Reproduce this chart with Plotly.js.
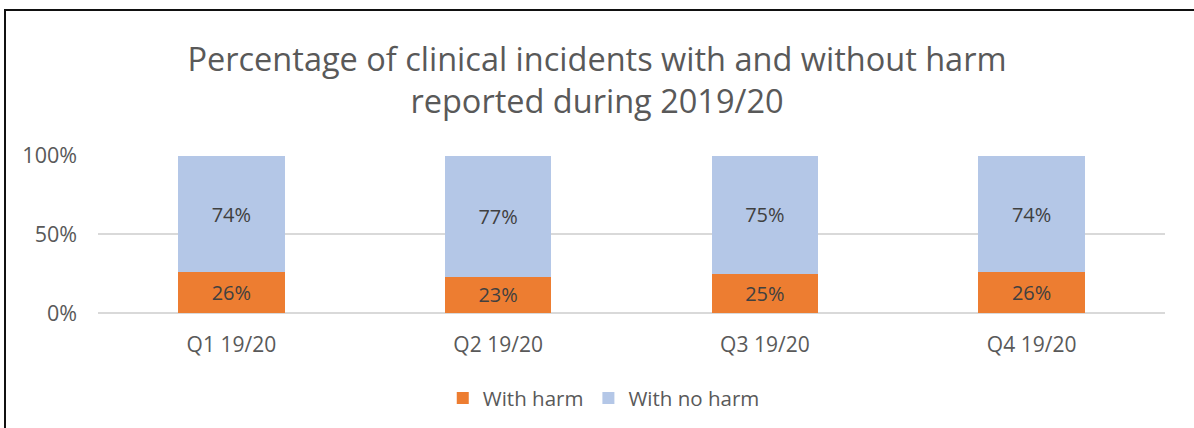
<!DOCTYPE html>
<html><head><meta charset="utf-8">
<script src="https://cdn.plot.ly/plotly-3.0.1.min.js"></script>
<style>
html,body{margin:0;padding:0;background:#fff;overflow:hidden}
#frame{position:absolute;left:4px;top:9px;width:1200px;height:430px;border-left:2px solid #111;border-top:2px solid #111;box-sizing:border-box}
#chart{position:absolute;left:0;top:0;width:1194px;height:428px}
</style></head>
<body>
<div id="chart"></div>
<div id="frame"></div>
<script>
const categories = ["Q1 19/20", "Q2 19/20", "Q3 19/20", "Q4 19/20"];
const withHarm = [26, 23, 25, 26];
const withNoHarm = [74, 77, 75, 74];
const seriesNames = ["With harm", "With no harm"];

const font = "Open Sans, Liberation Sans, sans-serif";
const traces = [
  {type:"bar", name:seriesNames[0], x:categories, y:withHarm,
   marker:{color:"#ED7D31"}, text:withHarm.map(v=>v+"%"), textposition:"inside",
   insidetextanchor:"middle", textfont:{size:20,color:"#404040",family:font}, hoverinfo:"none"},
  {type:"bar", name:seriesNames[1], x:categories, y:withNoHarm,
   marker:{color:"#B4C7E7"}, text:withNoHarm.map(v=>v+"%"), textposition:"inside",
   insidetextanchor:"middle", textfont:{size:20,color:"#404040",family:font}, hoverinfo:"none"}
];
const layout = {
  width:1194, height:428, barmode:"stack", bargap:0.6,
  paper_bgcolor:"#fff", plot_bgcolor:"#fff",
  margin:{l:98, r:29, t:155, b:114},
  title:{text:"Percentage of clinical incidents with and without harm<br>reported during 2019/20",
         x:0.5, xanchor:"center", yref:"container", y:0.835, yanchor:"middle", automargin:false,
         font:{size:32.5,color:"#595959",family:font}},
  xaxis:{tickfont:{size:21,color:"#595959",family:font}, showline:false, ticks:"", ticklabelstandoff:17, automargin:false},
  yaxis:{range:[0,100.6], tickvals:[0,50,100], ticktext:["0%","50%","100%"], automargin:false,
         tickfont:{size:21.5,color:"#595959",family:font}, gridcolor:"#D9D9D9", gridwidth:2,
         zeroline:true, zerolinecolor:"#D9D9D9", zerolinewidth:2, showline:false, ticks:"", ticklabelstandoff:20},
  showlegend:true,
  legend:{orientation:"h", x:0.474, xanchor:"center", y:-0.53, yanchor:"middle",
          font:{size:20.5,color:"#595959",family:font}, traceorder:"normal", itemwidth:30},
  uniformtext:{mode:false}
};
Plotly.newPlot("chart", traces, layout, {displayModeBar:false, staticPlot:true});
</script>
</body></html>
